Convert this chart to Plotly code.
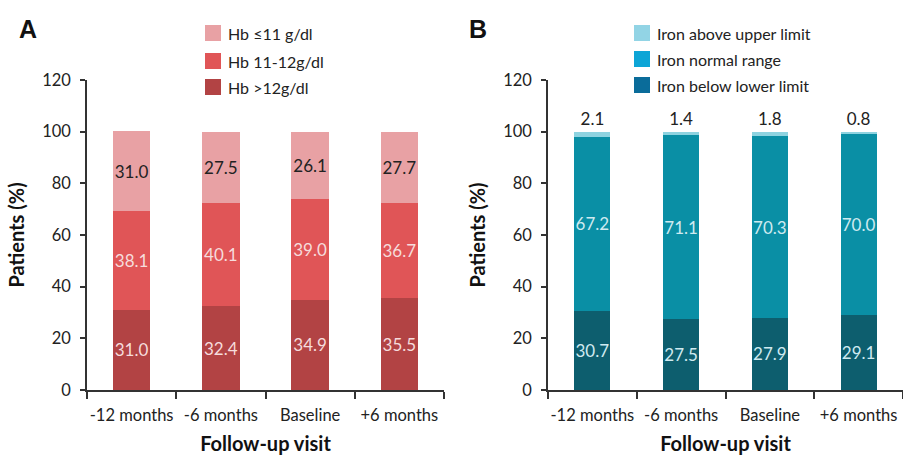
import plotly.graph_objects as go

# Follow-up visits shared by both panels
visits = ["-12 months", "-6 months", "Baseline", "+6 months"]

# Panel A: haemoglobin categories (% of patients)
hb_names = ["Hb >12g/dl", "Hb 11-12g/dl", "Hb \u226411 g/dl"]
hb_high = [31.0, 32.4, 34.9, 35.5]
hb_mid = [38.1, 40.1, 39.0, 36.7]
hb_low = [31.0, 27.5, 26.1, 27.7]

# Panel B: serum iron categories (% of patients)
iron_names = ["Iron below lower limit", "Iron normal range", "Iron above upper limit"]
iron_below = [30.7, 27.5, 27.9, 29.1]
iron_normal = [67.2, 71.1, 70.3, 70.0]
iron_above = [2.1, 1.4, 1.8, 0.8]

y_ticks = [0, 20, 40, 60, 80, 100, 120]

FONT = "Lato, 'Open Sans', sans-serif"
AXIS = "#333333"

hb_bar_colors = ["#B24344", "#E05557", "#E8A1A4"]
hb_text_colors = ["#F6DCDC", "#F6DCDC", "#222222"]
iron_bar_colors = ["#0D5E6E", "#0A8FA5", "#8ED3E0"]
iron_text_colors = ["#CFEAF0", "#CFEAF0", "#222222"]
iron_legend_colors = ["#0A6C9A", "#0DA5D6", "#92D4E5"]

fig = go.Figure()

bar_width = 0.42

for vals, name, col, tcol in zip([hb_high, hb_mid, hb_low], hb_names,
                                 hb_bar_colors, hb_text_colors):
    fig.add_trace(go.Bar(
        x=visits, y=vals, name=name, marker=dict(color=col, line=dict(width=0)),
        width=bar_width, text=[f"{v:.1f}" for v in vals], textposition="inside",
        insidetextanchor="middle", textangle=0, constraintext="none",
        textfont=dict(family=FONT, size=17, color=tcol),
        xaxis="x", yaxis="y", showlegend=False, hoverinfo="skip"))

for i, (vals, name, col, tcol) in enumerate(zip([iron_below, iron_normal, iron_above],
                                                 iron_names, iron_bar_colors,
                                                 iron_text_colors)):
    fig.add_trace(go.Bar(
        x=visits, y=vals, name=name, marker=dict(color=col, line=dict(width=0)),
        width=bar_width * 0.97, text=[f"{v:.1f}" for v in vals],
        textposition="outside" if i == 2 else "inside",
        insidetextanchor="middle", textangle=0, constraintext="none",
        cliponaxis=False,
        textfont=dict(family=FONT, size=17, color=tcol),
        xaxis="x2", yaxis="y2", showlegend=False, hoverinfo="skip"))

axis_common = dict(
    showline=True, linecolor=AXIS, linewidth=1.5, showgrid=False, zeroline=False,
    ticks="outside", tickcolor=AXIS, tickwidth=1.5, tickangle=0, automargin=False,
    tickfont=dict(family=FONT, size=16.5, color="#222222"),
)

xaxis_common = dict(axis_common, type="category", range=[-0.5, 3.5],
                    tickson="boundaries", ticklen=7, ticklabelstandoff=9,
                    title=dict(text="<b>Follow-up visit</b>", standoff=24,
                               font=dict(family=FONT, size=20, color="#111111")))
yaxis_common = dict(axis_common, range=[0, 120], tickvals=y_ticks, ticklen=5,
                    ticklabelstandoff=6,
                    title=dict(text="<b>Patients (%)</b>", standoff=12,
                               font=dict(family=FONT, size=20, color="#111111")))

fig.update_layout(
    width=903, height=455,
    margin=dict(l=0, r=0, t=80, b=65),
    plot_bgcolor="white", paper_bgcolor="white",
    barmode="stack",
    xaxis=dict(xaxis_common, domain=[87 / 903, 444 / 903], anchor="y"),
    yaxis=dict(yaxis_common, domain=[0, 1], anchor="x"),
    xaxis2=dict(xaxis_common, domain=[548 / 903, 1.0], anchor="y2"),
    yaxis2=dict(yaxis_common, domain=[0, 1], anchor="x2"),
    font=dict(family=FONT),
)

# Panel letters
for letter, xpx in [("A", 17), ("B", 467)]:
    fig.add_annotation(text=f"<b>{letter}</b>", xref="paper", yref="paper",
                       x=xpx / 903, y=1 + (80 - 29) / 310, xanchor="left",
                       yanchor="middle", showarrow=False,
                       font=dict(family="Liberation Sans, Arial", size=25, color="#111111"))


def px_y(py):
    # convert a pixel row to paper y (plot area spans rows 80..390)
    return (390 - py) / 310


def add_legend(names, colors, sq_left, text_left, rows):
    for name, col, row in zip(names, colors, rows):
        fig.add_shape(type="rect", xref="paper", yref="paper",
                      x0=sq_left / 903, x1=(sq_left + 16) / 903,
                      y0=px_y(row + 8), y1=px_y(row - 8),
                      fillcolor=col, line=dict(width=0))
        fig.add_annotation(text=name, xref="paper", yref="paper",
                           x=text_left / 903, y=px_y(row), xanchor="left",
                           yanchor="middle", showarrow=False,
                           font=dict(family=FONT, size=16, color="#222222"))


# Legends list the top segment first
add_legend(hb_names[::-1], hb_bar_colors[::-1], 205, 226, [33, 61, 87])
add_legend(iron_names[::-1], iron_legend_colors[::-1], 634, 655, [33, 59, 85])

fig.write_html("out.html")
